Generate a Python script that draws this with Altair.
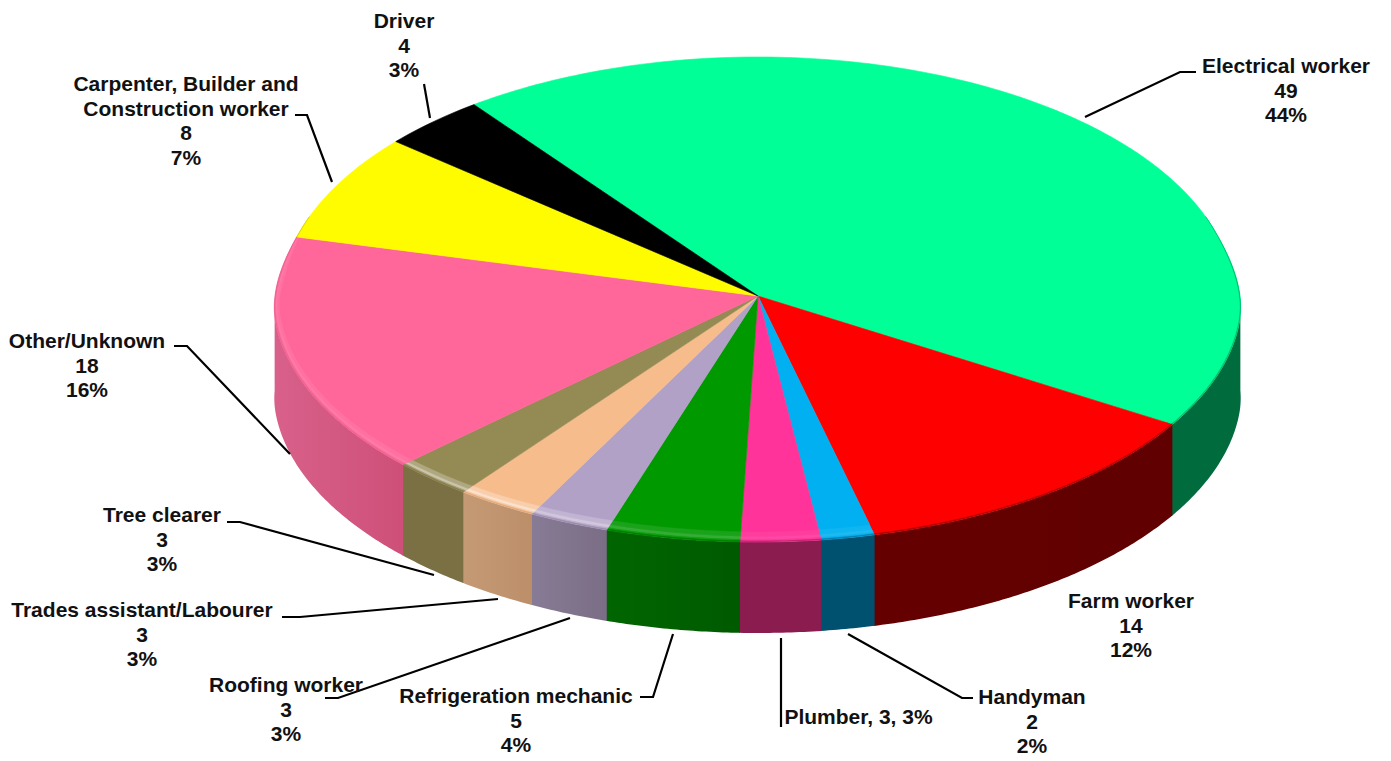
import math
import altair as alt

categories = ["Electrical worker", "Farm worker", "Handyman", "Plumber", "Refrigeration mechanic",
              "Roofing worker", "Trades assistant/Labourer", "Tree clearer", "Other/Unknown",
              "Carpenter, Builder and\nConstruction worker", "Driver"]
counts = [49, 14, 2, 3, 5, 3, 3, 3, 18, 8, 4]
percents = [44, 12, 2, 3, 4, 3, 3, 3, 16, 7, 3]

top_colors = ["#00FF96", "#FF0000", "#00B0F0", "#FF3399", "#009900", "#B2A1C7", "#F7BC8C",
              "#948A54", "#FF6699", "#FFFC00", "#000000"]
wall_left = ["#006B3D", "#660000", "#00506F", "#8A1C50", "#006600", "#887B95", "#C49A75",
             "#7A7044", "#D8608A", "#808000", "#000000"]
wall_right = ["#006B3D", "#600000", "#00506F", "#8A1C50", "#005A00", "#7A6D85", "#BC8F69",
              "#7A7044", "#CE5079", "#808000", "#000000"]
rim_glow = [0, 0, 0.12, 0.1, 0.2, 0.4, 0.55, 0.5, 0.14, 0, 0]

label_x = [1286, 1131, 1032, 858.5, 516, 286, 142, 162, 87, 186, 404]
label_y = [67, 602, 698, 718, 697, 686, 611, 516, 342, 85, 22]
leaders = [
    [(1085, 117), (1180, 72), (1196, 72)],
    [],
    [(848, 634), (962, 698), (973, 698)],
    [(781, 638), (781, 727)],
    [(673, 634), (653, 697), (640, 697)],
    [(570, 618), (338, 698), (325, 698)],
    [(498, 599), (300, 617), (282, 617)],
    [(434, 575), (240, 522), (227, 522)],
    [(290, 454), (187, 346), (174, 346)],
    [(332, 182), (307, 115), (295, 115)],
    [(430, 118), (424, 84)],
]

W, H = 1375, 750
CX, CY, A, B = 757.5, 299.5, 484, 242.5
APEX = (758, 296)
DEPTH = 91
START = -36.5


def clamp01(v):
    return max(0.0, min(1.0, v))


def rim(t, inset=0.0):
    r = math.radians(t)
    s, c = math.sin(r), math.cos(r)
    u = clamp01((c + 0.1) / 0.4)
    g = 1 - 0.015 * u * u * (3 - 2 * u)
    x, y = CX + A * g * s, CY - B * c
    if inset:
        # pull back towards the apex, so that the bevel stays inside its own slice,
        # and let it thin out towards the back of the disc
        fade = clamp01((0.34 - c) / 0.25)
        d = inset * fade * (5 * abs(s) + 10 * abs(c)) / math.hypot(x - APEX[0], y - APEX[1])
        x, y = x + (APEX[0] - x) * d, y + (APEX[1] - y) * d
    return [x, y]


def mix(col, other, f):
    a = [int(col[i:i + 2], 16) for i in (1, 3, 5)]
    b = [int(other[i:i + 2], 16) for i in (1, 3, 5)]
    return "#%02x%02x%02x" % tuple(round(x + (y - x) * f) for x, y in zip(a, b))


def arc(t0, t1, inset=0.0, step=1.0):
    n = max(2, int(abs(t1 - t0) / step) + 1)
    return [rim(t0 + (t1 - t0) * i / (n - 1), inset) for i in range(n)]


def feature(ring, fill):
    return {"type": "Feature", "properties": {"fill": fill},
            "geometry": {"type": "Polygon", "coordinates": [ring + [ring[0]]]}}


def geo_data(feats):
    return alt.InlineData(values={"type": "FeatureCollection", "features": feats},
                          format=alt.DataFormat(type="json", property="features"))


IDENT = dict(type="identity", scale=1, translate=[-8, -8])

total = sum(counts)
edges = [START]
for v in counts:
    edges.append(edges[-1] + v * 360 / total)

wall_layers, tops, rims = [], [], []
for i, (t0, t1) in enumerate(zip(edges, edges[1:])):
    tops.append(feature([list(APEX)] + arc(t0, t1), top_colors[i]))
    lo, hi = max(t0, 90), min(t1, 270)
    if lo < hi:
        upper = arc(lo, min(hi + 0.1, 270), step=0.5)
        lower = [[x, y + DEPTH] for x, y in reversed(upper)]
        grad = alt.LinearGradient(
            gradient="linear", x1=0, x2=1, y1=0, y2=0,
            stops=[alt.GradientStop(color=wall_left[i], offset=0),
                   alt.GradientStop(color=wall_right[i], offset=1)])
        wall_layers.append(
            alt.Chart(geo_data([feature(upper + lower, wall_left[i])]))
            .mark_geoshape(fill=grad, strokeWidth=0)
            .project(**IDENT)
        )
    blo, bhi = max(t0, 70), min(t1, 290)
    if blo < bhi:
        bands = [(1.0, 0.55, 0.5, "glow"), (0.55, 0.25, 1.0, "glow"), (0.25, 0.12, 0.35, "glow"),
                 (0.12, 0.0, 0.5, "wall")]
        for f0, f1, amt, kind in bands:
            if kind == "glow":
                col = mix(top_colors[i], "#ffffff", rim_glow[i] * amt)
            else:
                col = mix(top_colors[i], wall_left[i], amt)
            rims.append(feature(arc(blo, bhi, f1) + arc(blo, bhi, f0)[::-1], col))


def shapes(feats, sw=0.6):
    return alt.Chart(geo_data(feats)).mark_geoshape(strokeWidth=sw).encode(
        fill=alt.Fill("properties.fill:N", scale=None, legend=None),
        stroke=alt.Stroke("properties.fill:N", scale=None, legend=None),
    ).project(**IDENT)


xs = alt.Scale(domain=[8, 8 + W], range=[0, W], nice=False, zero=False)
ys = alt.Scale(domain=[8, 8 + H], range=[0, H], nice=False, zero=False)

line_rows = [{"id": i, "n": j, "x": p[0], "y": p[1]}
             for i, pts in enumerate(leaders) for j, p in enumerate(pts)]
lines = alt.Chart(alt.Data(values=line_rows)).mark_line(color="#000000", strokeWidth=2.2).encode(
    x=alt.X("x:Q", scale=xs, axis=None),
    y=alt.Y("y:Q", scale=ys, axis=None),
    detail="id:N",
    order="n:Q",
)

label_rows = []
for i, name in enumerate(categories):
    if name == "Plumber":
        text = f"{name}, {counts[i]}, {percents[i]}%"
    else:
        text = f"{name}\n{counts[i]}\n{percents[i]}%"
    label_rows.append({"text": text, "x": label_x[i], "y": label_y[i]})
labels = alt.Chart(alt.Data(values=label_rows)).mark_text(
    font="Liberation Sans", fontWeight="bold", fontSize=21, color="#111111",
    align="center", baseline="middle", lineBreak="\n", lineHeight=24.5,
).encode(
    x=alt.X("x:Q", scale=xs, axis=None),
    y=alt.Y("y:Q", scale=ys, axis=None),
    text="text:N",
)

chart = alt.layer(*wall_layers, shapes(tops), shapes(rims, 0.3), lines, labels).properties(
    width=W, height=H, padding=0, autosize=alt.AutoSizeParams(type="none"),
).configure_view(stroke=None)

chart.save("out.html", embed_options={"renderer": "svg", "actions": False})
